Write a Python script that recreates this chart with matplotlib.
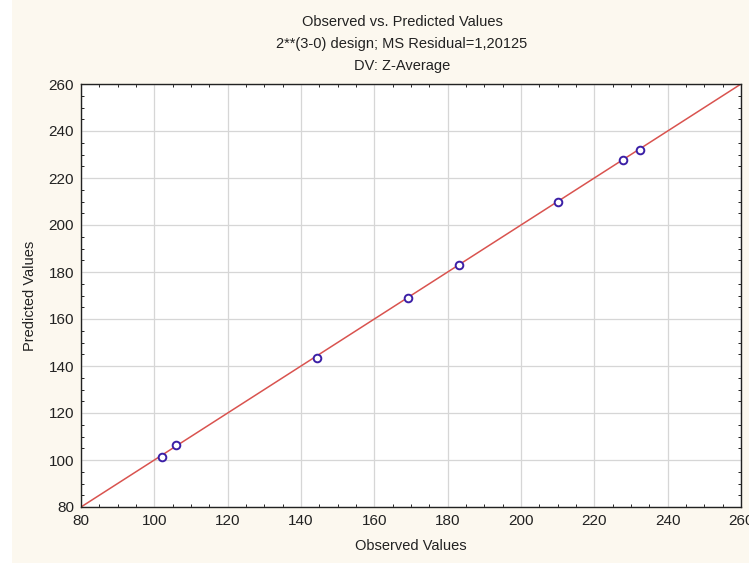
import numpy as np
import matplotlib
matplotlib.use("Agg")
import matplotlib.pyplot as plt
from matplotlib.ticker import MultipleLocator
from matplotlib.patches import Rectangle

plt.rcParams["font.family"] = ["Liberation Sans", "DejaVu Sans"]

observed = [102.0, 105.9, 144.3, 169.1, 183.0, 210.0, 227.8, 232.5]
predicted = [101.3, 106.3, 143.6, 168.9, 182.9, 209.6, 227.6, 231.8]

ticks = [80, 100, 120, 140, 160, 180, 200, 220, 240, 260]
lim = (80, 260)

bg = "#fcf8ef"
fig = plt.figure(figsize=(7.49, 5.63), dpi=100, facecolor=bg)
fig.patches.append(Rectangle((0, 0), 12 / 749, 1, transform=fig.transFigure,
                             facecolor="white", edgecolor="none", zorder=-1))
ax = fig.add_axes([81 / 749, 56 / 563, 660 / 749, 423 / 563])
ax.set_facecolor("white")

# линия y = x
ax.plot(lim, lim, color="#d9534f", lw=1.1, zorder=2)
ax.plot(observed, predicted, "o", ms=5.5, mfc="white", mec="#3b1fa6",
        mew=1.4, zorder=3)

ax.set_xlim(lim)
ax.set_ylim(lim)
ax.set_xticks(ticks)
ax.set_yticks(ticks)
ax.xaxis.set_minor_locator(MultipleLocator(5))
ax.yaxis.set_minor_locator(MultipleLocator(5))
ax.grid(True, which="major", color="#d6d6d6", lw=0.9, zorder=0)
ax.tick_params(which="both", direction="in", top=True, right=True,
               labelsize=11, colors="#222222")
ax.tick_params(which="major", length=0, pad=5)
ax.tick_params(which="minor", length=2.5, width=0.7)
for s in ax.spines.values():
    s.set_linewidth(1.0)
    s.set_color("#222222")

ax.set_xlabel("Observed Values", fontsize=10.5, labelpad=8, color="#222222")
ax.set_ylabel("Predicted Values", fontsize=10.5, labelpad=8, color="#222222")

cx = 402 / 749
fig.text(cx, 1 - 22 / 563, "Observed vs. Predicted Values", ha="center",
         va="center", fontsize=10.5, color="#222222")
fig.text(cx, 1 - 44 / 563, "2**(3-0) design; MS Residual=1,20125", ha="center",
         va="center", fontsize=10.5, color="#222222")
fig.text(cx, 1 - 66 / 563, "DV: Z-Average", ha="center",
         va="center", fontsize=10.5, color="#222222")

fig.savefig("out.png", dpi=100, facecolor=bg)
